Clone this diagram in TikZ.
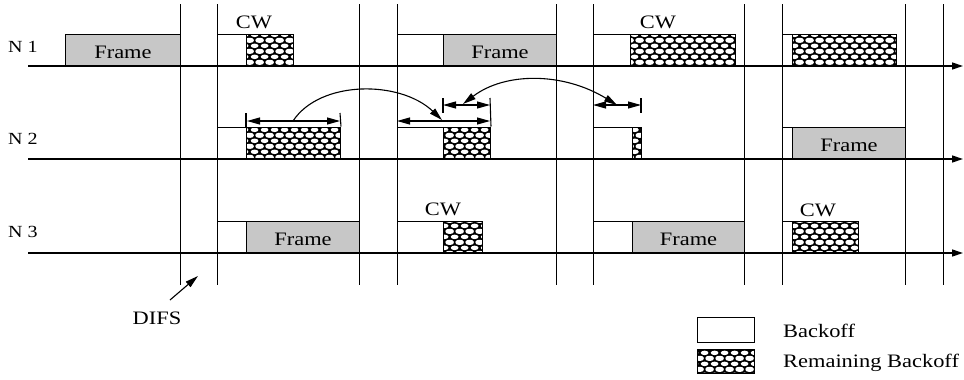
\documentclass[tikz,border=0pt]{standalone}
\usepackage{fontspec}
\setmainfont[FakeStretch=1.18]{Liberation Serif}
\usetikzlibrary{arrows.meta,patterns.meta}
\pgfdeclarepattern{
  name=ellmesh,
  type=uncolored,
  bottom left={\pgfpoint{0pt}{0pt}},
  top right={\pgfpoint{10pt}{10.6pt}},
  tile size={\pgfpoint{10pt}{10.6pt}},
  code={
    \pgfpathellipse{\pgfpoint{5pt}{5.3pt}}{\pgfpoint{4.2pt}{0pt}}{\pgfpoint{0pt}{2.3pt}}
    \pgfpathellipse{\pgfpoint{0pt}{0pt}}{\pgfpoint{4.2pt}{0pt}}{\pgfpoint{0pt}{2.3pt}}
    \pgfpathellipse{\pgfpoint{10pt}{0pt}}{\pgfpoint{4.2pt}{0pt}}{\pgfpoint{0pt}{2.3pt}}
    \pgfpathellipse{\pgfpoint{0pt}{10.6pt}}{\pgfpoint{4.2pt}{0pt}}{\pgfpoint{0pt}{2.3pt}}
    \pgfpathellipse{\pgfpoint{10pt}{10.6pt}}{\pgfpoint{4.2pt}{0pt}}{\pgfpoint{0pt}{2.3pt}}
    \pgfusepath{fill}
  }
}
\newcommand\labfont{\fontsize{19}{22}\selectfont}
\newcommand\nfont{\fontsize{17}{20}\selectfont}
\begin{document}
\begin{tikzpicture}[x=1pt,y=-1pt,
  box/.style={draw, line width=1pt, inner sep=0pt, anchor=south west,
    minimum height=31.5pt, text height=17.5pt, text depth=0pt},
  bo/.style={box, fill=white},
  fr/.style={box, fill=black!22, font=\labfont},
  rb/.style={box, preaction={fill=black}, pattern=ellmesh, pattern color=white},
  txt/.style={inner sep=0pt, anchor=base, font=\labfont},
  tline/.style={line width=1.3pt, -{Triangle[length=11pt,width=7pt]}},
  vline/.style={line width=1pt},
  dim/.style={line width=1.1pt, {Triangle[length=13pt,width=7pt]}-{Triangle[length=13pt,width=7pt]}},
  tick/.style={line width=1.1pt},
  curv/.style={line width=1.1pt},
  tip/.style={-{Triangle[length=13pt,width=7pt]}}
]
\useasboundingbox (0,0) rectangle (964,380);

% time lines
\coordinate (n1s) at (28,66);  \coordinate (n1e) at (963,66);
\coordinate (n2s) at (28,159); \coordinate (n2e) at (963,159);
\coordinate (n3s) at (28,253); \coordinate (n3e) at (963,253);
\draw[tline] (n1s) -- (n1e);
\draw[tline] (n2s) -- (n2e);
\draw[tline] (n3s) -- (n3e);

% node labels
\node[inner sep=0pt, anchor=base west, font=\nfont] (l1) at (8,52) {N 1};
\node[inner sep=0pt, anchor=base west, font=\nfont] (l2) at (8,144) {N 2};
\node[inner sep=0pt, anchor=base west, font=\nfont] (l3) at (8,237) {N 3};

% N1 boxes
\node[fr, minimum width=115pt] (f1a) at (65,66) {Frame};
\node[bo, minimum width=29pt]  (b1a) at (217,66) {};
\node[rb, minimum width=47pt]  (r1a) at (246,66) {};
\node[bo, minimum width=46pt]  (b1b) at (397,66) {};
\node[fr, minimum width=113pt] (f1b) at (443,66) {Frame};
\node[bo, minimum width=37pt]  (b1c) at (593,66) {};
\node[rb, minimum width=105pt] (r1c) at (630,66) {};
\node[bo, minimum width=10pt]  (b1d) at (782,66) {};
\node[rb, minimum width=104pt] (r1d) at (792,66) {};

% N2 boxes
\node[bo, minimum width=29pt]  (b2a) at (217,159) {};
\node[rb, minimum width=94pt]  (r2a) at (246,159) {};
\node[bo, minimum width=46pt]  (b2b) at (397,159) {};
\node[rb, minimum width=47pt]  (r2b) at (443,159) {};
\node[bo, minimum width=39pt]  (b2c) at (593,159) {};
\node[rb, minimum width=9pt]   (r2c) at (632,159) {};
\node[bo, minimum width=10pt]  (b2d) at (782,159) {};
\node[fr, minimum width=113pt] (f2d) at (792,159) {Frame};

% N3 boxes
\node[bo, minimum width=29pt]  (b3a) at (217,253) {};
\node[fr, minimum width=113pt] (f3a) at (246,253) {Frame};
\node[bo, minimum width=46pt]  (b3b) at (397,253) {};
\node[rb, minimum width=39pt]  (r3b) at (443,253) {};
\node[bo, minimum width=39pt]  (b3c) at (593,253) {};
\node[fr, minimum width=112pt] (f3c) at (632,253) {Frame};
\node[bo, minimum width=10pt]  (b3d) at (782,253) {};
\node[rb, minimum width=66pt]  (r3d) at (792,253) {};

% vertical slot lines
\foreach \x [count=\i] in {180,217,359,397,556,593,744,782,905,943}{
  \coordinate (vt\i) at (\x,4);
  \coordinate (vb\i) at (\x,285);
  \draw[vline] (vt\i) -- (vb\i);
}

% CW labels
\node[txt] (cw1) at (254,28) {CW};
\node[txt] (cw2) at (658,28) {CW};
\node[txt] (cw3) at (443,215) {CW};
\node[txt] (cw4) at (818,216) {CW};

% dimension arrows
\coordinate (d1a) at (247,121); \coordinate (d1b) at (340,121);
\coordinate (d2a) at (397,121); \coordinate (d2b) at (490,121);
\coordinate (d3a) at (443,105); \coordinate (d3b) at (490,105);
\coordinate (d4a) at (593,105); \coordinate (d4b) at (641,105);
\draw[dim] (d1a) -- (d1b);
\draw[dim] (d2a) -- (d2b);
\draw[dim] (d3a) -- (d3b);
\draw[dim] (d4a) -- (d4b);
% ticks
\coordinate (t1a) at (246,113); \coordinate (t1b) at (340,113);
\coordinate (t2a) at (490,98);  \coordinate (t3a) at (443,98);
\coordinate (t3b) at (443,113); \coordinate (t4a) at (641,98);
\coordinate (t4b) at (641,113);
\draw[tick] (t1a) -- (r2a.north west);
\draw[tick] (t1b) -- (r2a.north east);
\draw[tick] (t2a) -- (r2b.north east);
\draw[tick] (t3a) -- (t3b);
\draw[tick] (t4a) -- (t4b);

% curved arrows
\coordinate (c1s) at (293,121); \coordinate (c1e) at (442,120);
\draw[curv, tip] (c1s) .. controls (320,80) and (400,80) .. (c1e);
\coordinate (c2s) at (463,104); \coordinate (c2e) at (617,105);
\draw[curv, {Triangle[length=13pt,width=7pt]}-{Triangle[length=13pt,width=7pt]}] (c2s) .. controls (505,72) and (563,72) .. (c2e);

% DIFS
\node[txt] (difs) at (157,324) {DIFS};
\coordinate (difsa) at (170,300); \coordinate (difsb) at (198,276);
\draw[line width=1.1pt, tip] (difsa) -- (difsb);

% legend
\node[draw, line width=1pt, fill=white, inner sep=0pt, anchor=north west,
  minimum width=57pt, minimum height=25pt] (lg1) at (697,317) {};
\node[draw, line width=1pt, inner sep=0pt, anchor=north west,
  minimum width=57pt, minimum height=24pt, preaction={fill=black},
  pattern=ellmesh, pattern color=white] (lg2) at (697,349) {};
\node[inner sep=0pt, anchor=base west, font=\labfont] (lt1) at (783,337) {Backoff};
\node[inner sep=0pt, anchor=base west, font=\labfont] (lt2) at (783,367) {Remaining Backoff};
\end{tikzpicture}
\end{document}
